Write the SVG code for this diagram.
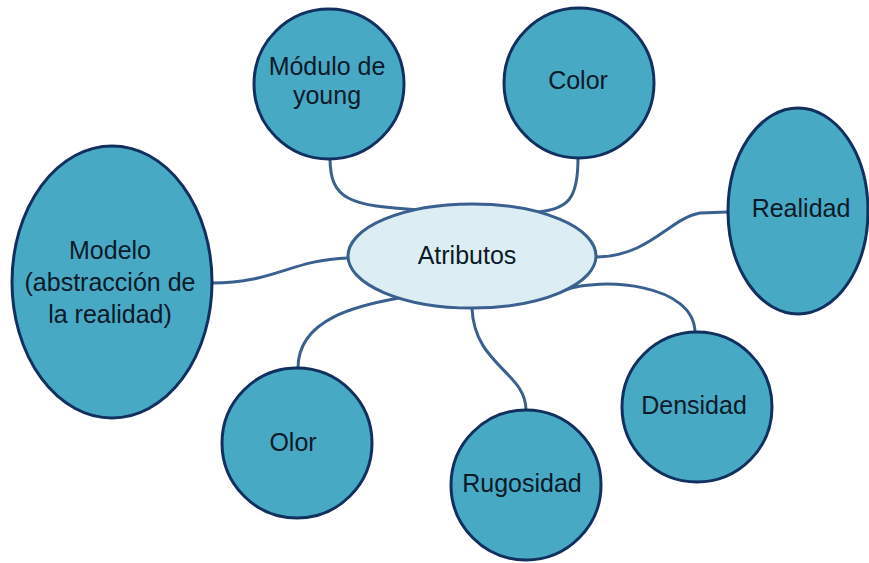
<svg xmlns="http://www.w3.org/2000/svg" width="869" height="563" viewBox="0 0 869 563">
  <style>
    .bubble { fill: #48A9C5; stroke: #12305E; stroke-width: 3; }
    .hub { fill: #DCEEF4; stroke: #3A6090; stroke-width: 3; }
    .link { fill: none; stroke: #3A6090; stroke-width: 3; stroke-linecap: round; }
    .label { font-family: "Liberation Sans", Arial, sans-serif; font-size: 25px; fill: #0B1A28; text-anchor: middle; }
  </style>
  <rect width="869" height="563" fill="#FFFFFF"/>

  <!-- connectors from the hub to each attribute -->
  <g id="connectors">
    <path class="link" d="M330,158 C330,200 350,206 420,210"/>
    <path class="link" d="M578,158 C578,200 568,208 538,212"/>
    <path class="link" d="M597,257 C650,256 670,218 700,213 L728,212"/>
    <path class="link" d="M212,283 C275,283 290,260 348,258"/>
    <path class="link" d="M403,290 L399,298 C360,305 298,318 298,368"/>
    <path class="link" d="M472,308 C474,365 526,372 526,410"/>
    <path class="link" d="M565,290 C600,277 695,283 695,333"/>
  </g>

  <g id="hub">
    <ellipse class="hub" cx="472" cy="256" rx="124" ry="52"/>
    <text class="label" x="467" y="264">Atributos</text>
  </g>

  <g id="modelo">
    <ellipse class="bubble" cx="112" cy="282" rx="100" ry="136"/>
    <text class="label" x="110" y="259">Modelo</text>
    <text class="label" x="110" y="291">(abstracción de</text>
    <text class="label" x="110" y="323">la realidad)</text>
  </g>

  <g id="modulo-young">
    <circle class="bubble" cx="329" cy="84" r="75"/>
    <text class="label" x="327" y="75">Módulo de</text>
    <text class="label" x="327" y="104">young</text>
  </g>

  <g id="color">
    <circle class="bubble" cx="579" cy="83" r="75"/>
    <text class="label" x="578" y="89">Color</text>
  </g>

  <g id="realidad">
    <ellipse class="bubble" cx="798" cy="211" rx="70" ry="103"/>
    <text class="label" x="801" y="217">Realidad</text>
  </g>

  <g id="densidad">
    <circle class="bubble" cx="697" cy="407" r="75"/>
    <text class="label" x="694" y="414">Densidad</text>
  </g>

  <g id="rugosidad">
    <circle class="bubble" cx="526" cy="485" r="75"/>
    <text class="label" x="522" y="492">Rugosidad</text>
  </g>

  <g id="olor">
    <circle class="bubble" cx="297" cy="443" r="75"/>
    <text class="label" x="293" y="451">Olor</text>
  </g>
</svg>
